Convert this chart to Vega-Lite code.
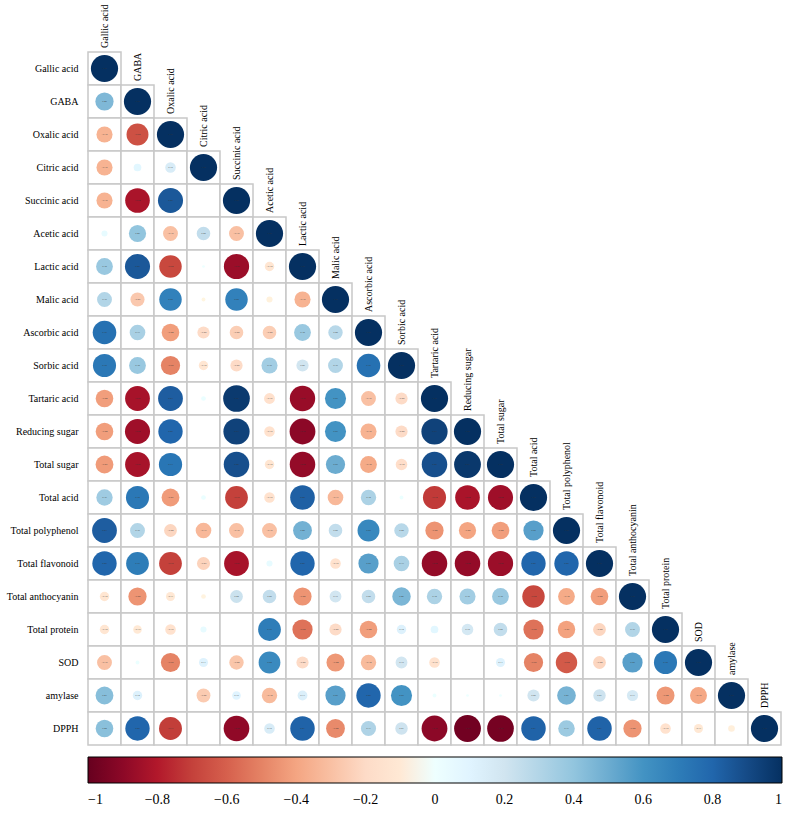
{
  "$schema": "https://vega.github.io/schema/vega-lite/v6.json",
  "width": 693,
  "height": 693,
  "autosize": "none",
  "padding": {"left": 88, "top": 52, "right": 9, "bottom": 77},
  "background": "white",
  "config": {"view": {"stroke": null}, "font": "Liberation Serif"},
  "data": {"values": [
    {"row":"Gallic acid","col":"Gallic acid","r":1},
    {"row":"GABA","col":"Gallic acid","r":0.45},{"row":"GABA","col":"GABA","r":1},
    {"row":"Oxalic acid","col":"Gallic acid","r":-0.35},{"row":"Oxalic acid","col":"GABA","r":-0.65},{"row":"Oxalic acid","col":"Oxalic acid","r":1},
    {"row":"Citric acid","col":"Gallic acid","r":-0.35},{"row":"Citric acid","col":"GABA","r":0.08},{"row":"Citric acid","col":"Oxalic acid","r":0.15},{"row":"Citric acid","col":"Citric acid","r":1},
    {"row":"Succinic acid","col":"Gallic acid","r":-0.35},{"row":"Succinic acid","col":"GABA","r":-0.82},{"row":"Succinic acid","col":"Oxalic acid","r":0.85},{"row":"Succinic acid","col":"Citric acid","r":0},{"row":"Succinic acid","col":"Succinic acid","r":1},
    {"row":"Acetic acid","col":"Gallic acid","r":0.05},{"row":"Acetic acid","col":"GABA","r":0.4},{"row":"Acetic acid","col":"Oxalic acid","r":-0.3},{"row":"Acetic acid","col":"Citric acid","r":0.25},{"row":"Acetic acid","col":"Succinic acid","r":-0.3},{"row":"Acetic acid","col":"Acetic acid","r":1},
    {"row":"Lactic acid","col":"Gallic acid","r":0.38},{"row":"Lactic acid","col":"GABA","r":0.85},{"row":"Lactic acid","col":"Oxalic acid","r":-0.68},{"row":"Lactic acid","col":"Citric acid","r":0.01},{"row":"Lactic acid","col":"Succinic acid","r":-0.86},{"row":"Lactic acid","col":"Acetic acid","r":-0.12},{"row":"Lactic acid","col":"Lactic acid","r":1},
    {"row":"Malic acid","col":"Gallic acid","r":0.3},{"row":"Malic acid","col":"GABA","r":-0.27},{"row":"Malic acid","col":"Oxalic acid","r":0.68},{"row":"Malic acid","col":"Citric acid","r":-0.02},{"row":"Malic acid","col":"Succinic acid","r":0.68},{"row":"Malic acid","col":"Acetic acid","r":-0.05},{"row":"Malic acid","col":"Lactic acid","r":-0.35},{"row":"Malic acid","col":"Malic acid","r":1},
    {"row":"Ascorbic acid","col":"Gallic acid","r":0.75},{"row":"Ascorbic acid","col":"GABA","r":0.33},{"row":"Ascorbic acid","col":"Oxalic acid","r":-0.42},{"row":"Ascorbic acid","col":"Citric acid","r":-0.2},{"row":"Ascorbic acid","col":"Succinic acid","r":-0.25},{"row":"Ascorbic acid","col":"Acetic acid","r":-0.25},{"row":"Ascorbic acid","col":"Lactic acid","r":0.38},{"row":"Ascorbic acid","col":"Malic acid","r":0.28},{"row":"Ascorbic acid","col":"Ascorbic acid","r":1},
    {"row":"Sorbic acid","col":"Gallic acid","r":0.72},{"row":"Sorbic acid","col":"GABA","r":0.38},{"row":"Sorbic acid","col":"Oxalic acid","r":-0.5},{"row":"Sorbic acid","col":"Citric acid","r":-0.12},{"row":"Sorbic acid","col":"Succinic acid","r":-0.2},{"row":"Sorbic acid","col":"Acetic acid","r":0.35},{"row":"Sorbic acid","col":"Lactic acid","r":0.2},{"row":"Sorbic acid","col":"Malic acid","r":0.3},{"row":"Sorbic acid","col":"Ascorbic acid","r":0.75},{"row":"Sorbic acid","col":"Sorbic acid","r":1},
    {"row":"Tartaric acid","col":"Gallic acid","r":-0.42},{"row":"Tartaric acid","col":"GABA","r":-0.83},{"row":"Tartaric acid","col":"Oxalic acid","r":0.83},{"row":"Tartaric acid","col":"Citric acid","r":0.03},{"row":"Tartaric acid","col":"Succinic acid","r":0.96},{"row":"Tartaric acid","col":"Acetic acid","r":-0.16},{"row":"Tartaric acid","col":"Lactic acid","r":-0.87},{"row":"Tartaric acid","col":"Malic acid","r":0.6},{"row":"Tartaric acid","col":"Ascorbic acid","r":-0.3},{"row":"Tartaric acid","col":"Sorbic acid","r":-0.2},{"row":"Tartaric acid","col":"Tartaric acid","r":1},
    {"row":"Reducing sugar","col":"Gallic acid","r":-0.42},{"row":"Reducing sugar","col":"GABA","r":-0.85},{"row":"Reducing sugar","col":"Oxalic acid","r":0.8},{"row":"Reducing sugar","col":"Citric acid","r":0},{"row":"Reducing sugar","col":"Succinic acid","r":0.93},{"row":"Reducing sugar","col":"Acetic acid","r":-0.15},{"row":"Reducing sugar","col":"Lactic acid","r":-0.9},{"row":"Reducing sugar","col":"Malic acid","r":0.6},{"row":"Reducing sugar","col":"Ascorbic acid","r":-0.35},{"row":"Reducing sugar","col":"Sorbic acid","r":-0.2},{"row":"Reducing sugar","col":"Tartaric acid","r":0.93},{"row":"Reducing sugar","col":"Reducing sugar","r":1},
    {"row":"Total sugar","col":"Gallic acid","r":-0.43},{"row":"Total sugar","col":"GABA","r":-0.83},{"row":"Total sugar","col":"Oxalic acid","r":0.73},{"row":"Total sugar","col":"Citric acid","r":0},{"row":"Total sugar","col":"Succinic acid","r":0.88},{"row":"Total sugar","col":"Acetic acid","r":-0.12},{"row":"Total sugar","col":"Lactic acid","r":-0.88},{"row":"Total sugar","col":"Malic acid","r":0.5},{"row":"Total sugar","col":"Ascorbic acid","r":-0.38},{"row":"Total sugar","col":"Sorbic acid","r":-0.18},{"row":"Total sugar","col":"Tartaric acid","r":0.88},{"row":"Total sugar","col":"Reducing sugar","r":0.97},{"row":"Total sugar","col":"Total sugar","r":1},
    {"row":"Total acid","col":"Gallic acid","r":0.36},{"row":"Total acid","col":"GABA","r":0.72},{"row":"Total acid","col":"Oxalic acid","r":-0.43},{"row":"Total acid","col":"Citric acid","r":0.03},{"row":"Total acid","col":"Succinic acid","r":-0.7},{"row":"Total acid","col":"Acetic acid","r":-0.15},{"row":"Total acid","col":"Lactic acid","r":0.82},{"row":"Total acid","col":"Malic acid","r":-0.33},{"row":"Total acid","col":"Ascorbic acid","r":0.32},{"row":"Total acid","col":"Sorbic acid","r":0.02},{"row":"Total acid","col":"Tartaric acid","r":-0.72},{"row":"Total acid","col":"Reducing sugar","r":-0.82},{"row":"Total acid","col":"Total sugar","r":-0.85},{"row":"Total acid","col":"Total acid","r":1},
    {"row":"Total polyphenol","col":"Gallic acid","r":0.83},{"row":"Total polyphenol","col":"GABA","r":0.3},{"row":"Total polyphenol","col":"Oxalic acid","r":-0.22},{"row":"Total polyphenol","col":"Citric acid","r":-0.33},{"row":"Total polyphenol","col":"Succinic acid","r":-0.3},{"row":"Total polyphenol","col":"Acetic acid","r":-0.3},{"row":"Total polyphenol","col":"Lactic acid","r":0.48},{"row":"Total polyphenol","col":"Malic acid","r":0.25},{"row":"Total polyphenol","col":"Ascorbic acid","r":0.65},{"row":"Total polyphenol","col":"Sorbic acid","r":0.28},{"row":"Total polyphenol","col":"Tartaric acid","r":-0.45},{"row":"Total polyphenol","col":"Reducing sugar","r":-0.4},{"row":"Total polyphenol","col":"Total sugar","r":-0.42},{"row":"Total polyphenol","col":"Total acid","r":0.55},{"row":"Total polyphenol","col":"Total polyphenol","r":1},
    {"row":"Total flavonoid","col":"Gallic acid","r":0.8},{"row":"Total flavonoid","col":"GABA","r":0.7},{"row":"Total flavonoid","col":"Oxalic acid","r":-0.7},{"row":"Total flavonoid","col":"Citric acid","r":-0.23},{"row":"Total flavonoid","col":"Succinic acid","r":-0.83},{"row":"Total flavonoid","col":"Acetic acid","r":0.05},{"row":"Total flavonoid","col":"Lactic acid","r":0.8},{"row":"Total flavonoid","col":"Malic acid","r":-0.15},{"row":"Total flavonoid","col":"Ascorbic acid","r":0.55},{"row":"Total flavonoid","col":"Sorbic acid","r":0.33},{"row":"Total flavonoid","col":"Tartaric acid","r":-0.88},{"row":"Total flavonoid","col":"Reducing sugar","r":-0.88},{"row":"Total flavonoid","col":"Total sugar","r":-0.86},{"row":"Total flavonoid","col":"Total acid","r":0.8},{"row":"Total flavonoid","col":"Total polyphenol","r":0.8},{"row":"Total flavonoid","col":"Total flavonoid","r":1},
    {"row":"Total anthocyanin","col":"Gallic acid","r":-0.12},{"row":"Total anthocyanin","col":"GABA","r":-0.45},{"row":"Total anthocyanin","col":"Oxalic acid","r":-0.11},{"row":"Total anthocyanin","col":"Citric acid","r":-0.03},{"row":"Total anthocyanin","col":"Succinic acid","r":0.22},{"row":"Total anthocyanin","col":"Acetic acid","r":0.25},{"row":"Total anthocyanin","col":"Lactic acid","r":-0.45},{"row":"Total anthocyanin","col":"Malic acid","r":0.19},{"row":"Total anthocyanin","col":"Ascorbic acid","r":0.25},{"row":"Total anthocyanin","col":"Sorbic acid","r":0.46},{"row":"Total anthocyanin","col":"Tartaric acid","r":0.32},{"row":"Total anthocyanin","col":"Reducing sugar","r":0.35},{"row":"Total anthocyanin","col":"Total sugar","r":0.38},{"row":"Total anthocyanin","col":"Total acid","r":-0.68},{"row":"Total anthocyanin","col":"Total polyphenol","r":-0.38},{"row":"Total anthocyanin","col":"Total flavonoid","r":-0.42},{"row":"Total anthocyanin","col":"Total anthocyanin","r":1},
    {"row":"Total protein","col":"Gallic acid","r":-0.12},{"row":"Total protein","col":"GABA","r":-0.1},{"row":"Total protein","col":"Oxalic acid","r":-0.15},{"row":"Total protein","col":"Citric acid","r":0.05},{"row":"Total protein","col":"Succinic acid","r":0},{"row":"Total protein","col":"Acetic acid","r":0.7},{"row":"Total protein","col":"Lactic acid","r":-0.55},{"row":"Total protein","col":"Malic acid","r":-0.2},{"row":"Total protein","col":"Ascorbic acid","r":-0.42},{"row":"Total protein","col":"Sorbic acid","r":0.12},{"row":"Total protein","col":"Tartaric acid","r":0.08},{"row":"Total protein","col":"Reducing sugar","r":0.18},{"row":"Total protein","col":"Total sugar","r":0.25},{"row":"Total protein","col":"Total acid","r":-0.55},{"row":"Total protein","col":"Total polyphenol","r":-0.41},{"row":"Total protein","col":"Total flavonoid","r":-0.22},{"row":"Total protein","col":"Total anthocyanin","r":0.3},{"row":"Total protein","col":"Total protein","r":1},
    {"row":"SOD","col":"Gallic acid","r":-0.3},{"row":"SOD","col":"GABA","r":0.02},{"row":"SOD","col":"Oxalic acid","r":-0.5},{"row":"SOD","col":"Citric acid","r":0.11},{"row":"SOD","col":"Succinic acid","r":-0.28},{"row":"SOD","col":"Acetic acid","r":0.64},{"row":"SOD","col":"Lactic acid","r":-0.2},{"row":"SOD","col":"Malic acid","r":-0.44},{"row":"SOD","col":"Ascorbic acid","r":-0.32},{"row":"SOD","col":"Sorbic acid","r":0.19},{"row":"SOD","col":"Tartaric acid","r":-0.15},{"row":"SOD","col":"Reducing sugar","r":0},{"row":"SOD","col":"Total sugar","r":0.11},{"row":"SOD","col":"Total acid","r":-0.5},{"row":"SOD","col":"Total polyphenol","r":-0.62},{"row":"SOD","col":"Total flavonoid","r":-0.22},{"row":"SOD","col":"Total anthocyanin","r":0.55},{"row":"SOD","col":"Total protein","r":0.72},{"row":"SOD","col":"SOD","r":1},
    {"row":"amylase","col":"Gallic acid","r":0.43},{"row":"amylase","col":"GABA","r":0.12},{"row":"amylase","col":"Oxalic acid","r":0},{"row":"amylase","col":"Citric acid","r":-0.26},{"row":"amylase","col":"Succinic acid","r":0.1},{"row":"amylase","col":"Acetic acid","r":-0.32},{"row":"amylase","col":"Lactic acid","r":0.13},{"row":"amylase","col":"Malic acid","r":0.55},{"row":"amylase","col":"Ascorbic acid","r":0.8},{"row":"amylase","col":"Sorbic acid","r":0.6},{"row":"amylase","col":"Tartaric acid","r":0.02},{"row":"amylase","col":"Reducing sugar","r":0.01},{"row":"amylase","col":"Total sugar","r":0.01},{"row":"amylase","col":"Total acid","r":0.2},{"row":"amylase","col":"Total polyphenol","r":0.47},{"row":"amylase","col":"Total flavonoid","r":0.21},{"row":"amylase","col":"Total anthocyanin","r":0.17},{"row":"amylase","col":"Total protein","r":-0.44},{"row":"amylase","col":"SOD","r":-0.39},{"row":"amylase","col":"amylase","r":1},
    {"row":"DPPH","col":"Gallic acid","r":0.42},{"row":"DPPH","col":"GABA","r":0.8},{"row":"DPPH","col":"Oxalic acid","r":-0.71},{"row":"DPPH","col":"Citric acid","r":0},{"row":"DPPH","col":"Succinic acid","r":-0.89},{"row":"DPPH","col":"Acetic acid","r":0.15},{"row":"DPPH","col":"Lactic acid","r":0.81},{"row":"DPPH","col":"Malic acid","r":-0.48},{"row":"DPPH","col":"Ascorbic acid","r":0.31},{"row":"DPPH","col":"Sorbic acid","r":0.21},{"row":"DPPH","col":"Tartaric acid","r":-0.9},{"row":"DPPH","col":"Reducing sugar","r":-0.97},{"row":"DPPH","col":"Total sugar","r":-0.96},{"row":"DPPH","col":"Total acid","r":0.81},{"row":"DPPH","col":"Total polyphenol","r":0.37},{"row":"DPPH","col":"Total flavonoid","r":0.81},{"row":"DPPH","col":"Total anthocyanin","r":-0.45},{"row":"DPPH","col":"Total protein","r":-0.15},{"row":"DPPH","col":"SOD","r":-0.11},{"row":"DPPH","col":"amylase","r":-0.06},{"row":"DPPH","col":"DPPH","r":1}
  ]},
  "encoding": {
    "x": {"field": "col", "type": "nominal", "axis": null,
      "scale": {"paddingInner": 0, "paddingOuter": 0, "domain": ["Gallic acid","GABA","Oxalic acid","Citric acid","Succinic acid","Acetic acid","Lactic acid","Malic acid","Ascorbic acid","Sorbic acid","Tartaric acid","Reducing sugar","Total sugar","Total acid","Total polyphenol","Total flavonoid","Total anthocyanin","Total protein","SOD","amylase","DPPH"]}},
    "y": {"field": "row", "type": "nominal",
      "axis": {"title": null, "domain": false, "ticks": false, "labelPadding": 10, "labelFont": "Liberation Serif", "labelFontSize": 10, "labelColor": "black"},
      "scale": {"paddingInner": 0, "paddingOuter": 0, "domain": ["Gallic acid","GABA","Oxalic acid","Citric acid","Succinic acid","Acetic acid","Lactic acid","Malic acid","Ascorbic acid","Sorbic acid","Tartaric acid","Reducing sugar","Total sugar","Total acid","Total polyphenol","Total flavonoid","Total anthocyanin","Total protein","SOD","amylase","DPPH"]}}
  },
  "layer": [
    {"mark": {"type": "rect", "fill": "white", "stroke": "#c8c8c8", "strokeWidth": 1.5}},
    {"mark": {"type": "circle", "opacity": 1},
     "encoding": {
       "size": {"field": "r", "type": "quantitative", "legend": null,
         "scale": {"domain": [-1, 0, 1], "range": [740, 0, 740]}},
       "color": {"field": "r", "type": "quantitative",
         "scale": {"domain": [-1,-0.8,-0.6,-0.4,-0.2,0,0.2,0.4,0.6,0.8,1],
                   "range": ["#67001F","#B2182B","#D6604D","#F4A582","#FDDBC7","#FFFFFF","#D1E5F0","#92C5DE","#4393C3","#2166AC","#053061"]},
         "legend": {"orient": "none", "direction": "horizontal", "legendX": 0, "legendY": 705,
           "gradientLength": 694, "gradientThickness": 26, "title": null,
           "values": [-1,-0.8,-0.6,-0.4,-0.2,0,0.2,0.4,0.6,0.8,1], "format": ".1~f",
           "labelFont": "Liberation Serif", "labelFontSize": 14, "labelColor": "black",
           "labelAlign": "center", "labelOffset": 10, "labelOverlap": false,
           "gradientStrokeColor": "black", "gradientStrokeWidth": 1}}
     }},
    {"transform": [{"filter": "datum.r >= 0.1 || datum.r <= -0.1"}],
     "mark": {"type": "text", "fontSize": 2.5, "color": "#333333", "align": "center", "baseline": "middle"},
     "encoding": {"text": {"field": "r", "type": "quantitative", "format": ".2f"}}},
    {"transform": [{"filter": "datum.row === datum.col"}],
     "mark": {"type": "text", "angle": 270, "align": "left", "baseline": "middle", "dx": 4, "fontSize": 10, "font": "Liberation Serif", "color": "black"},
     "encoding": {
       "y": {"field": "row", "type": "nominal", "bandPosition": 0},
       "text": {"field": "col"}
     }}
  ]
}
